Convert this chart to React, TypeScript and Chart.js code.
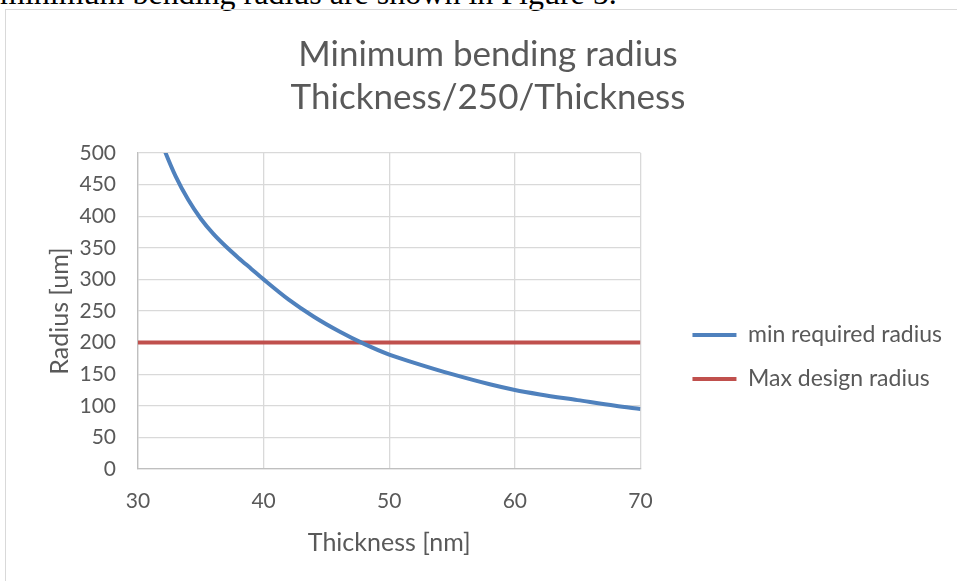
import React, { useEffect, useRef } from 'react';
import { Chart, registerables } from 'chart.js';

Chart.register(...registerables);

const thickness = [30, 31, 32, 33, 34, 35, 36, 37, 38, 39, 40, 42, 44, 46, 48, 50, 52, 55, 58, 60, 62, 65, 68, 70];
const minRequiredRadius = [625, 565, 510, 463, 426, 396, 372, 352, 334, 317, 300, 268, 241, 218, 198, 181, 168, 150, 134, 125, 118, 109, 100, 95];
const maxDesignThickness = [30, 70];
const maxDesignRadius = [200, 200];
const titleLines = ['Minimum bending radius', 'Thickness/250/Thickness'];
const seriesNames = ['min required radius', 'Max design radius'];
const xTitle = 'Thickness [nm]';
const yTitle = 'Radius [um]';
const xRange = [30, 70, 10];
const yRange = [0, 500, 50];

const TEXT = '#595959';
const GRID = '#d9d9d9';
const FONT = 'Lato';

// Let the right-hand legend take its natural width (Chart.js caps vertical boxes at a share of half the canvas).
const widenLegend = {
  id: 'widenLegend',
  beforeLayout(chart: any) {
    const lg = chart.legend;
    if (lg && !lg._widened) {
      const orig = lg.update.bind(lg);
      lg.update = (mw: number, mh: number, margins: any) => orig(Math.max(mw, 400), mh, margins);
      lg._widened = true;
    }
  },
};

export default function App() {
  const ref = useRef<HTMLCanvasElement>(null);

  useEffect(() => {
    const chart = new Chart(ref.current!, {
      type: 'scatter',
      data: {
        datasets: [
          {
            label: seriesNames[0],
            data: thickness.map((t, i) => ({ x: t, y: minRequiredRadius[i] })),
            showLine: true,
            borderColor: '#4F81BD',
            backgroundColor: '#4F81BD',
            borderWidth: 4,
            pointRadius: 0,
            pointStyle: 'line',
            cubicInterpolationMode: 'monotone',
            clip: 0,
          },
          {
            label: seriesNames[1],
            data: maxDesignThickness.map((t, i) => ({ x: t, y: maxDesignRadius[i] })),
            showLine: true,
            borderColor: '#C0504D',
            backgroundColor: '#C0504D',
            borderWidth: 4,
            pointRadius: 0,
            pointStyle: 'line',
            clip: 0,
          },
        ],
      },
      plugins: [widenLegend],
      options: {
        animation: false,
        responsive: true,
        maintainAspectRatio: false,
        layout: { padding: { left: 18, right: 5, top: 0, bottom: 0 } },
        plugins: {
          tooltip: { enabled: false },
          title: {
            display: true,
            text: titleLines,
            color: TEXT,
            font: { family: FONT, size: 35, weight: 'normal', lineHeight: 43 / 35 },
            padding: { top: 23.5, bottom: 33.5 },
          },
          legend: {
            display: true,
            position: 'right',
            align: 'center',
            title: {
              display: true,
              text: ' ',
              font: { family: FONT, size: 10 },
              padding: { top: 111, bottom: 0 },
            },
            labels: {
              usePointStyle: true,
              pointStyleWidth: 44,
              color: TEXT,
              padding: 21,
              font: { family: FONT, size: 23 },
            },
          },
        },
        scales: {
          x: {
            type: 'linear',
            position: 'bottom',
            min: xRange[0],
            max: xRange[1],
            ticks: { stepSize: xRange[2], color: TEXT, padding: 20, font: { family: FONT, size: 21 } },
            grid: { color: GRID, lineWidth: 1.3, drawTicks: false },
            border: { color: '#bfbfbf', width: 1.3 },
            title: {
              display: true,
              text: xTitle,
              color: TEXT,
              font: { family: FONT, size: 25 },
              padding: { top: 0, bottom: 23 },
            },
            afterFit: (s: any) => {
              s.height = 112;
            },
          },
          y: {
            type: 'linear',
            position: 'left',
            min: yRange[0],
            max: yRange[1],
            ticks: { stepSize: yRange[2], color: TEXT, padding: 22, font: { family: FONT, size: 21 } },
            grid: { color: GRID, lineWidth: 1.3, drawTicks: false },
            border: { color: '#bfbfbf', width: 1.3 },
            title: {
              display: true,
              text: yTitle,
              color: TEXT,
              font: { family: FONT, size: 25 },
              padding: { top: 21, bottom: 0 },
            },
            afterFit: (s: any) => {
              s.width = 114;
            },
          },
          spacer: {
            type: 'linear',
            position: 'right',
            display: true,
            ticks: { display: false },
            grid: { display: false },
            border: { display: false },
            title: { display: false },
            afterFit: (s: any) => {
              s.width = 31;
            },
          },
        },
      },
    } as any);
    return () => chart.destroy();
  }, []);

  return (
    <div style={{ position: 'fixed', left: 0, top: 0, width: 957, height: 581, overflow: 'hidden', background: '#fff' }}>
      <div
        style={{
          position: 'absolute',
          left: 0,
          top: -23,
          fontFamily: '"Liberation Serif", serif',
          fontSize: 32,
          lineHeight: '32px',
          whiteSpace: 'nowrap',
          color: '#000',
        }}
      >
        minimum bending radius are shown in Figure 5.
      </div>
      <div
        style={{
          position: 'absolute',
          left: 5,
          top: 9,
          width: 1000,
          height: 700,
          border: '1px solid #d9d9d9',
          boxSizing: 'border-box',
        }}
      />
      <div style={{ position: 'absolute', left: 6, top: 10, width: 951, height: 571 }}>
        <canvas ref={ref} />
      </div>
    </div>
  );
}
